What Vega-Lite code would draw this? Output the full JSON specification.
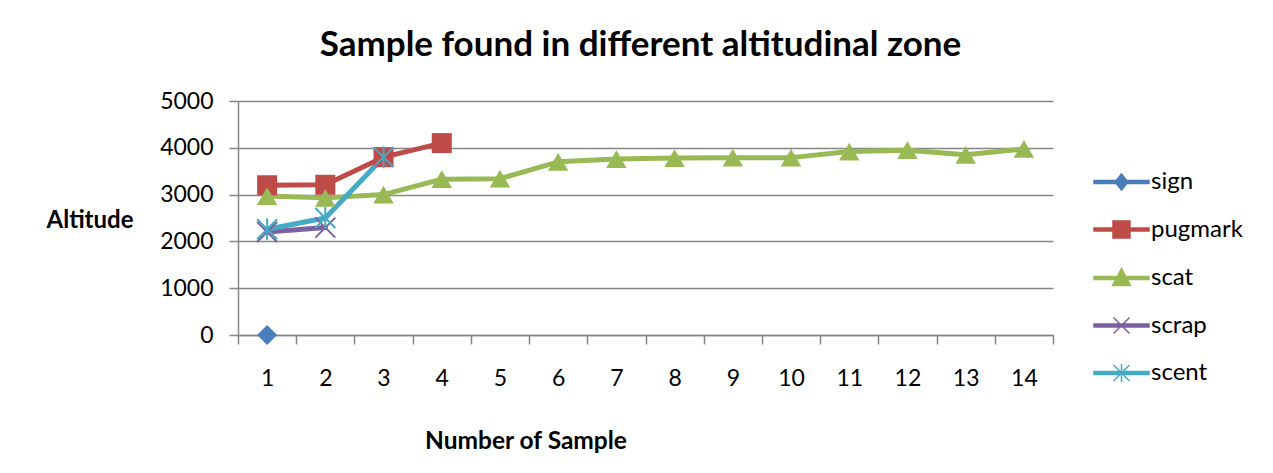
{
  "$schema": "https://vega.github.io/schema/vega-lite/v6.json",
  "autosize": {"type": "none"},
  "padding": {"left": 238, "top": 101, "right": 220, "bottom": 138},
  "width": 815,
  "height": 234,
  "background": "white",
  "title": {
    "text": "Sample found in different altitudinal zone",
    "font": "Lato",
    "fontSize": 35,
    "fontWeight": "bold",
    "color": "#000000",
    "anchor": "middle",
    "frame": "group",
    "baseline": "alphabetic",
    "offset": -1,
    "dx": -5
  },
  "config": {
    "view": {"stroke": null},
    "font": "Lato"
  },
  "data": {
    "values": [
      {"sample": 1, "series": "sign", "altitude": 0},
      {"sample": 1, "series": "pugmark", "altitude": 3200},
      {"sample": 2, "series": "pugmark", "altitude": 3210},
      {"sample": 3, "series": "pugmark", "altitude": 3800},
      {"sample": 4, "series": "pugmark", "altitude": 4100},
      {"sample": 1, "series": "scat", "altitude": 2970},
      {"sample": 2, "series": "scat", "altitude": 2930},
      {"sample": 3, "series": "scat", "altitude": 3000},
      {"sample": 4, "series": "scat", "altitude": 3330},
      {"sample": 5, "series": "scat", "altitude": 3340},
      {"sample": 6, "series": "scat", "altitude": 3700},
      {"sample": 7, "series": "scat", "altitude": 3760},
      {"sample": 8, "series": "scat", "altitude": 3780},
      {"sample": 9, "series": "scat", "altitude": 3790},
      {"sample": 10, "series": "scat", "altitude": 3790},
      {"sample": 11, "series": "scat", "altitude": 3920},
      {"sample": 12, "series": "scat", "altitude": 3950},
      {"sample": 13, "series": "scat", "altitude": 3850},
      {"sample": 14, "series": "scat", "altitude": 3975},
      {"sample": 1, "series": "scrap", "altitude": 2200},
      {"sample": 2, "series": "scrap", "altitude": 2295},
      {"sample": 1, "series": "scent", "altitude": 2260},
      {"sample": 2, "series": "scent", "altitude": 2500},
      {"sample": 3, "series": "scent", "altitude": 3800}
    ]
  },
  "encoding": {
    "x": {
      "field": "sample",
      "type": "ordinal",
      "bandPosition": 0.5,
      "scale": {"type": "band", "paddingInner": 0, "paddingOuter": 0},
      "axis": {
        "title": "Number of Sample",
        "titleFont": "Lato",
        "titleFontSize": 24.5,
        "titleFontWeight": "bold",
        "titleColor": "#000000",
        "titleX": 287.5,
        "titleY": 106,
        "titleAlign": "center",
        "titleBaseline": "middle",
        "labelAngle": 0,
        "labelFont": "Lato",
        "labelFontSize": 23,
        "labelColor": "#000000",
        "labelPadding": 23,
        "tickBand": "extent",
        "tickSize": 9,
        "tickColor": "#868686",
        "tickWidth": 1.5,
        "domainColor": "#868686",
        "domainWidth": 1.5,
        "grid": false
      }
    },
    "y": {
      "field": "altitude",
      "type": "quantitative",
      "scale": {"domain": [0, 5000], "nice": false, "zero": true},
      "axis": {
        "title": "Altitude",
        "titleFont": "Lato",
        "titleFontSize": 24,
        "titleFontWeight": "bold",
        "titleColor": "#000000",
        "titleAngle": 0,
        "titleX": -148.5,
        "titleY": 119,
        "titleAlign": "center",
        "titleBaseline": "middle",
        "values": [0, 1000, 2000, 3000, 4000, 5000],
        "format": "d",
        "labelFont": "Lato",
        "labelFontSize": 23,
        "labelColor": "#000000",
        "labelPadding": 16,
        "tickSize": 9,
        "tickColor": "#868686",
        "tickWidth": 1.5,
        "domainColor": "#868686",
        "domainWidth": 1.5,
        "grid": true,
        "gridColor": "#868686",
        "gridWidth": 1.5
      }
    }
  },
  "layer": [
    {
      "transform": [{"filter": "datum.altitude < -1"}],
      "mark": {"type": "point", "filled": true, "opacity": 1, "size": 400, "strokeWidth": 1.5},
      "encoding": {
        "color": {
          "field": "series",
          "type": "nominal",
          "scale": {
            "domain": ["sign", "pugmark", "scat", "scrap", "scent"],
            "range": ["#4A7EBB", "#BE4B48", "#98B954", "#7D60A0", "#46AAC5"]
          },
          "legend": {
            "title": null,
            "orient": "none",
            "legendX": 871.5,
            "legendY": 69,
            "padding": 0,
            "symbolSize": 400,
            "symbolStrokeWidth": 1.5,
            "symbolOpacity": 1,
            "labelOffset": 17.5,
            "rowPadding": 23.5,
            "labelFont": "Lato",
            "labelFontSize": 24,
            "labelColor": "#000000"
          }
        },
        "stroke": {
          "field": "series",
          "type": "nominal",
          "scale": {
            "domain": ["sign", "pugmark", "scat", "scrap", "scent"],
            "range": ["#4A7EBB", "#BE4B48", "#98B954", "#7D60A0", "#46AAC5"]
          }
        },
        "shape": {
          "field": "series",
          "type": "nominal",
          "scale": {
            "domain": ["sign", "pugmark", "scat", "scrap", "scent"],
            "range": [
              "M-2.75,-0.15H2.75V0.15H-2.75Z M0,-0.8L0.65,0L0,0.8L-0.65,0Z",
              "M-2.75,-0.15H2.75V0.15H-2.75Z M-0.85,-0.85H0.85V0.85H-0.85Z",
              "M-2.75,-0.15H2.75V0.15H-2.75Z M0,-0.95L0.9,0.75H-0.9Z",
              "M-2.75,-0.15H2.75V0.15H-2.75Z M-0.8,-0.8L0.8,0.8M-0.8,0.8L0.8,-0.8",
              "M-2.75,-0.15H2.75V0.15H-2.75Z M-0.8,-0.8L0.8,0.8M-0.8,0.8L0.8,-0.8M0,-0.9V0.9"
            ]
          }
        }
      }
    },
    {
      "mark": {"type": "line", "strokeWidth": 5, "strokeJoin": "round", "strokeCap": "round"},
      "encoding": {"color": {"field": "series", "type": "nominal", "legend": null}}
    },
    {
      "transform": [{"filter": "datum.series === 'sign'"}],
      "mark": {"type": "point", "shape": "diamond", "filled": true, "opacity": 1, "size": 400},
      "encoding": {"color": {"field": "series", "type": "nominal", "legend": null}}
    },
    {
      "transform": [{"filter": "datum.series === 'pugmark'"}],
      "mark": {"type": "point", "shape": "square", "filled": true, "opacity": 1, "size": 400},
      "encoding": {"color": {"field": "series", "type": "nominal", "legend": null}}
    },
    {
      "transform": [{"filter": "datum.series === 'scat'"}],
      "mark": {"type": "point", "shape": "triangle-up", "filled": true, "opacity": 1, "size": 420},
      "encoding": {"color": {"field": "series", "type": "nominal", "legend": null}}
    },
    {
      "transform": [{"filter": "datum.series === 'scrap'"}],
      "mark": {"type": "point", "shape": "M-1,-1L1,1M-1,1L1,-1", "filled": false, "opacity": 1, "size": 400, "strokeWidth": 2},
      "encoding": {"color": {"field": "series", "type": "nominal", "legend": null}}
    },
    {
      "transform": [{"filter": "datum.series === 'scent'"}],
      "mark": {"type": "point", "shape": "M-1,-1L1,1M-1,1L1,-1M0,-1.1V1.1", "filled": false, "opacity": 1, "size": 400, "strokeWidth": 2},
      "encoding": {"color": {"field": "series", "type": "nominal", "legend": null}}
    }
  ]
}
